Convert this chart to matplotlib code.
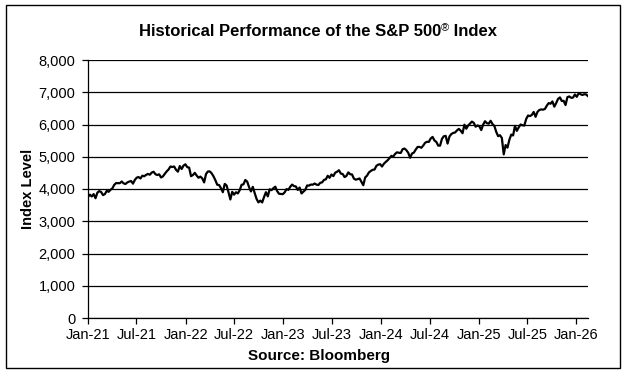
import matplotlib
matplotlib.use("Agg")
import matplotlib.pyplot as plt
from matplotlib.ticker import FuncFormatter, MultipleLocator
from matplotlib.patches import Rectangle
import pandas as pd

plt.rcParams['font.family'] = ['Liberation Sans', 'DejaVu Sans']

# weekly closes (Fridays), starting 2021-01-01
spx_2021 = [3756, 3825, 3768, 3841, 3714, 3887, 3934, 3907, 3811, 3842, 3943, 3913, 3975,
            4020, 4129, 4185, 4180, 4181, 4233, 4174, 4156, 4204, 4230, 4247, 4166, 4281,
            4352, 4370, 4327, 4412, 4395, 4437, 4468, 4442, 4509, 4535, 4459, 4433, 4455,
            4357, 4391, 4471, 4545, 4605, 4697, 4682, 4698, 4595, 4538, 4712, 4620, 4726, 4766]
spx_2022 = [4677, 4662, 4398, 4432, 4500, 4418, 4349, 4385, 4329, 4204, 4463, 4543,
            4546, 4488, 4393, 4272, 4132, 4123, 4024, 3901, 4158, 4109, 3901, 3675, 3912,
            3825, 3899, 3863, 3962, 4130, 4145, 4280, 4228, 4058, 3924, 4067, 3873, 3693, 3586,
            3640, 3583, 3753, 3901, 3771, 3993, 3965, 4026, 4072, 3934, 3852, 3845, 3840]
spx_2023 = [3895, 3999, 3973, 4071, 4136, 4090, 4079, 3970, 4046, 3862, 3917, 3971, 4109,
            4105, 4138, 4133, 4169, 4136, 4124, 4192, 4205, 4282, 4299, 4410, 4348, 4450,
            4399, 4505, 4536, 4582, 4478, 4464, 4370, 4406, 4516, 4457, 4450, 4320, 4288,
            4308, 4327, 4224, 4117, 4358, 4415, 4514, 4559, 4595, 4604, 4719, 4755, 4770]
spx_2024 = [4697, 4784, 4840, 4891, 4959, 5027, 5006, 5089, 5137, 5124, 5117, 5234, 5254,
            5204, 5123, 4967, 5100, 5128, 5223, 5303, 5305, 5278, 5347, 5432, 5465, 5460,
            5567, 5615, 5505, 5459, 5346, 5344, 5554, 5635, 5648, 5408, 5626, 5703, 5738,
            5751, 5815, 5864, 5808, 5729, 5995, 5870, 5969, 6032, 6090, 6051, 5931, 5971]
spx_2025 = [5942, 5827, 5997, 6101, 6041, 6026, 6115, 6013, 5955, 5770, 5639, 5668, 5581,
            5074, 5363, 5283, 5525, 5687, 5660, 5958, 5803, 5912, 6000, 5977, 5968, 6173,
            6279, 6260, 6297, 6389, 6238, 6389, 6450, 6467, 6460, 6482, 6584, 6664, 6644,
            6716, 6553, 6664, 6792, 6840, 6729, 6734, 6603, 6849, 6870, 6827, 6834, 6930]
spx_2026 = [6858, 6966, 6940, 6915, 6939, 6932, 6880]

values = spx_2021 + spx_2022 + spx_2023 + spx_2024 + spx_2025 + spx_2026
dates = pd.date_range("2021-01-01", periods=len(values), freq="W-FRI")

tick_labels = ["Jan-21", "Jul-21", "Jan-22", "Jul-22", "Jan-23", "Jul-23",
               "Jan-24", "Jul-24", "Jan-25", "Jul-25", "Jan-26"]
tick_dates = pd.to_datetime(["2021-01-01", "2021-07-01", "2022-01-01", "2022-07-01",
                             "2023-01-01", "2023-07-01", "2024-01-01", "2024-07-01",
                             "2025-01-01", "2025-07-01", "2026-01-01"])

fig = plt.figure(figsize=(6.27, 3.75), dpi=100)
ax = fig.add_axes([0.1404, 0.152, 0.7974, 0.688])

ax.plot(dates, values, color='black', lw=1.6, zorder=3)

ax.set_ylim(0, 8000)
ax.yaxis.set_major_locator(MultipleLocator(1000))
ax.yaxis.set_major_formatter(FuncFormatter(lambda v, p: f"{int(v):,}"))
ax.set_xlim(pd.Timestamp("2021-01-01"), dates[-1])
ax.set_xticks(tick_dates)
ax.set_xticklabels(tick_labels)

ax.grid(axis='y', color='black', lw=0.9)
ax.set_axisbelow(True)
for s in ['top', 'right']:
    ax.spines[s].set_visible(False)
ax.spines['left'].set_linewidth(0.9)
ax.spines['bottom'].set_linewidth(0.9)
ax.tick_params(axis='both', direction='out', length=4, width=0.9, labelsize=10.5)
ax.tick_params(axis='y', pad=5)
ax.tick_params(axis='x', pad=3)

fig.text(28 / 627, 1 - 189 / 375, "Index Level", rotation=90, ha='center', va='center',
         fontsize=10.5, fontweight='bold')
fig.text(0.508, 1 - 356 / 375, "Source: Bloomberg", ha='center', va='center',
         fontsize=11, fontweight='bold')

# title with a small superscript registered mark
renderer = fig.canvas.get_renderer()
t1 = fig.text(0, 1 - 32 / 375, "Historical Performance of the S&P 500", ha='left',
              va='center', fontsize=12, fontweight='bold')
t2 = fig.text(0, 1 - 28 / 375, "\u00ae", ha='left', va='center', fontsize=8)
t3 = fig.text(0, 1 - 32 / 375, " Index", ha='left', va='center', fontsize=12,
              fontweight='bold')
w1 = t1.get_window_extent(renderer).width
w2 = t2.get_window_extent(renderer).width
w3 = t3.get_window_extent(renderer).width
x0 = 318 - (w1 + w2 + w3) / 2
t1.set_x(x0 / 627)
t2.set_x((x0 + w1) / 627)
t3.set_x((x0 + w1 + w2) / 627)

fig.patches.append(Rectangle((6 / 627, 1 - 368 / 375), 614 / 627, 363 / 375,
                             transform=fig.transFigure, fill=False,
                             edgecolor='black', lw=1.0))

fig.savefig("out.png", dpi=100)
